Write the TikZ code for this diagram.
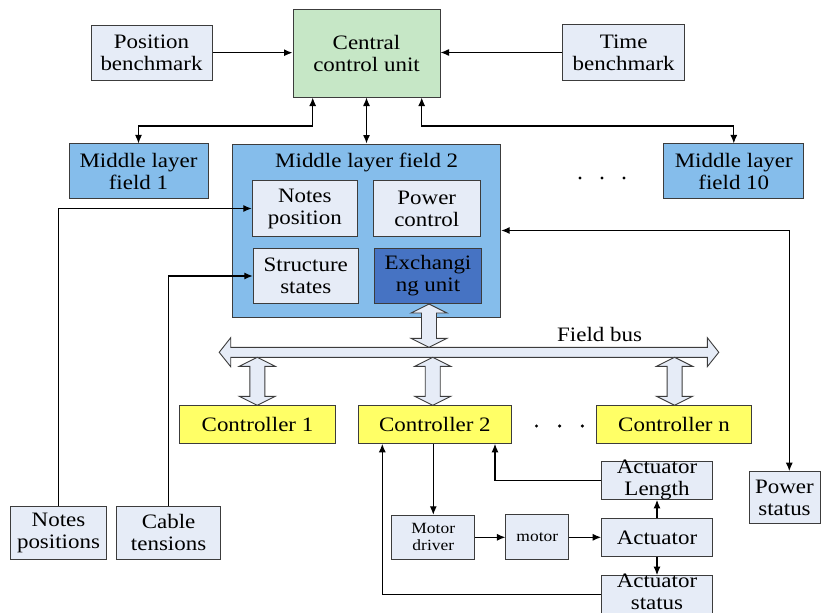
\documentclass[tikz,border=0pt]{standalone}
\usepackage{fontspec}
\setmainfont{Liberation Serif}[FakeStretch=1.12]
\usetikzlibrary{arrows.meta}
\definecolor{bordc}{RGB}{60,60,60}
\definecolor{lightbox}{RGB}{230,236,247}
\definecolor{greenbox}{RGB}{198,231,198}
\definecolor{midblue}{RGB}{133,189,235}
\definecolor{darkblue}{RGB}{70,115,195}
\definecolor{yelbox}{RGB}{255,255,102}
\newcommand\vbarrow[3]{%
  \draw[blockarr] (#1,#2) -- ({#1+18},{#2+9}) -- ({#1+7.5},{#2+9}) -- ({#1+7.5},{#3-9}) -- ({#1+18},{#3-9}) -- (#1,#3) -- ({#1-18},{#3-9}) -- ({#1-7.5},{#3-9}) -- ({#1-7.5},{#2+9}) -- ({#1-18},{#2+9}) -- cycle;}
\begin{document}
\begin{tikzpicture}[x=1pt,y=-1pt,
  txt/.style={font=\fontsize{20.5}{22}\selectfont, align=center},
  smalltxt/.style={font=\fontsize{15.6}{17}\selectfont, align=center},
  bx/.style={draw=bordc, line width=1pt, fill=lightbox, inner sep=0pt, txt},
  arr/.style={-{Latex[length=8.5pt,width=7pt]}, line width=1.2pt, draw=black},
  darr/.style={{Latex[length=8.5pt,width=7pt]}-{Latex[length=8.5pt,width=7pt]}, line width=1.2pt, draw=black},
  blockarr/.style={draw=bordc, line width=0.9pt, fill=lightbox, line join=miter}
]
\useasboundingbox (0,0) rectangle (822,613);
\fill[white] (0,0) rectangle (822,613);

% top row
\node[bx, minimum width=121pt, minimum height=55.3pt] (pos) at (151.5,52.7) {Position\\benchmark};
\node[bx, fill=greenbox, minimum width=147pt, minimum height=88pt] (central) at (366.5,53) {Central\\control unit};
\node[bx, minimum width=122pt, minimum height=55.6pt] (time) at (623.7,52.5) {Time\\benchmark};

% middle layer
\node[bx, fill=midblue, minimum width=139pt, minimum height=54.7pt] (mlf1) at (138.5,171.3) {Middle layer\\field 1};
\node[bx, fill=midblue, minimum width=268.4pt, minimum height=173pt] (mlf2) at (366.5,230.5) {};
\node[txt] (mlf2lbl) at (366.7,162) {Middle layer field 2};
\node[bx, fill=midblue, minimum width=139.7pt, minimum height=54.7pt] (mlf10) at (733.8,171.3) {Middle layer\\field 10};
\node[bx, minimum width=105pt, minimum height=55.6pt] (notespos) at (304.8,208.5) {Notes\\position};
\node[bx, minimum width=107pt, minimum height=55.6pt] (powerctl) at (426.8,208.5) {Power\\control};
\node[bx, minimum width=105pt, minimum height=55.4pt] (struct) at (305.8,276) {Structure\\states};
\node[bx, fill=darkblue, minimum width=107.4pt, minimum height=55.4pt] (exch) at (428,276) {Exchangi\\ng unit};

% dots
\fill (580,178) circle (1.7pt) (602,178) circle (1.7pt) (624,178) circle (1.7pt);
\fill (536.5,426) circle (1.7pt) (559.6,426) circle (1.7pt) (582.3,426) circle (1.7pt);

% controllers
\node[bx, fill=yelbox, minimum width=155.8pt, minimum height=38pt] (c1) at (257.5,424.3) {Controller 1};
\node[bx, fill=yelbox, minimum width=152.7pt, minimum height=38pt] (c2) at (434.9,424.3) {Controller 2};
\node[bx, fill=yelbox, minimum width=155pt, minimum height=38pt] (cn) at (674,424.3) {Controller n};

% bottom boxes
\node[bx, minimum width=96pt, minimum height=53pt] (notesp) at (58.5,532.5) {Notes\\positions};
\node[bx, minimum width=104.4pt, minimum height=53pt] (cable) at (168.6,532.5) {Cable\\tensions};
\node[bx, minimum width=71pt, minimum height=52.3pt] (pstatus) at (784.5,497.8) {Power\\status};
\node[bx, minimum width=110.6pt, minimum height=38.3pt, label={[txt, name=actlenlbl]center:Actuator\\Length}] (actlen) at (657,480.2) {};
\node[bx, smalltxt, minimum width=83.3pt, minimum height=44pt] (motordrv) at (433.3,537.3) {Motor\\driver};
\node[bx, smalltxt, minimum width=62.7pt, minimum height=45.3pt] (motor) at (537.3,537.3) {motor};
\node[bx, minimum width=110.6pt, minimum height=37.6pt] (actuator) at (657,537.5) {Actuator};
\node[bx, minimum width=110.6pt, minimum height=38.3pt, label={[txt, name=actstatlbl, yshift=2.5pt]center:Actuator\\status}] (actstat) at (657,594.8) {};

% field bus
\draw[blockarr] (219.2,352.3) -- (230.7,337.7) -- (230.7,347.3) -- (707.3,347.3) -- (707.3,337.7) -- (718.8,352.3) -- (707.3,366.7) -- (707.3,357.3) -- (230.7,357.3) -- (230.7,366.7) -- cycle;
\node[txt] (fieldbus) at (599.6,334) {Field bus};
\vbarrow{429}{304}{347.3}
\vbarrow{257.3}{357.3}{405.3}
\vbarrow{432.7}{357.3}{405.3}
\vbarrow{674.6}{357.3}{405.3}

% connectors
\draw[arr] (pos.east) -- (pos.east -| central.west);
\draw[arr] (time.west) -- (time.west -| central.east);
\draw[darr] (central.south -| 312.7,0) -- (312.7,126) -| (mlf1.north);
\draw[darr] (central.south) -- (mlf2.north);
\draw[darr] (central.south -| 421.7,0) -- (421.7,126) -| (mlf10.north);
\draw[arr] (notesp.north) |- (notespos.west);
\draw[arr] (cable.north) |- (struct.west);
\draw[darr] (mlf2.east) -| ([xshift=4.8pt]pstatus.north);
\draw[arr] (c2.south -| motordrv.north) -- (motordrv.north);
\draw[arr] (actstat.west) -| (c2.south -| 382.3,0);
\draw[arr] (actlen.west) -| (c2.south -| 495,0);
\draw[arr] (motordrv.east) -- (motordrv.east -| motor.west);
\draw[arr] (motor.east) -- (motor.east -| actuator.west);
\draw[arr] (actuator.north) -- (actlen.south);
\draw[arr] (actuator.south) -- (actstat.north);
\end{tikzpicture}
\end{document}
